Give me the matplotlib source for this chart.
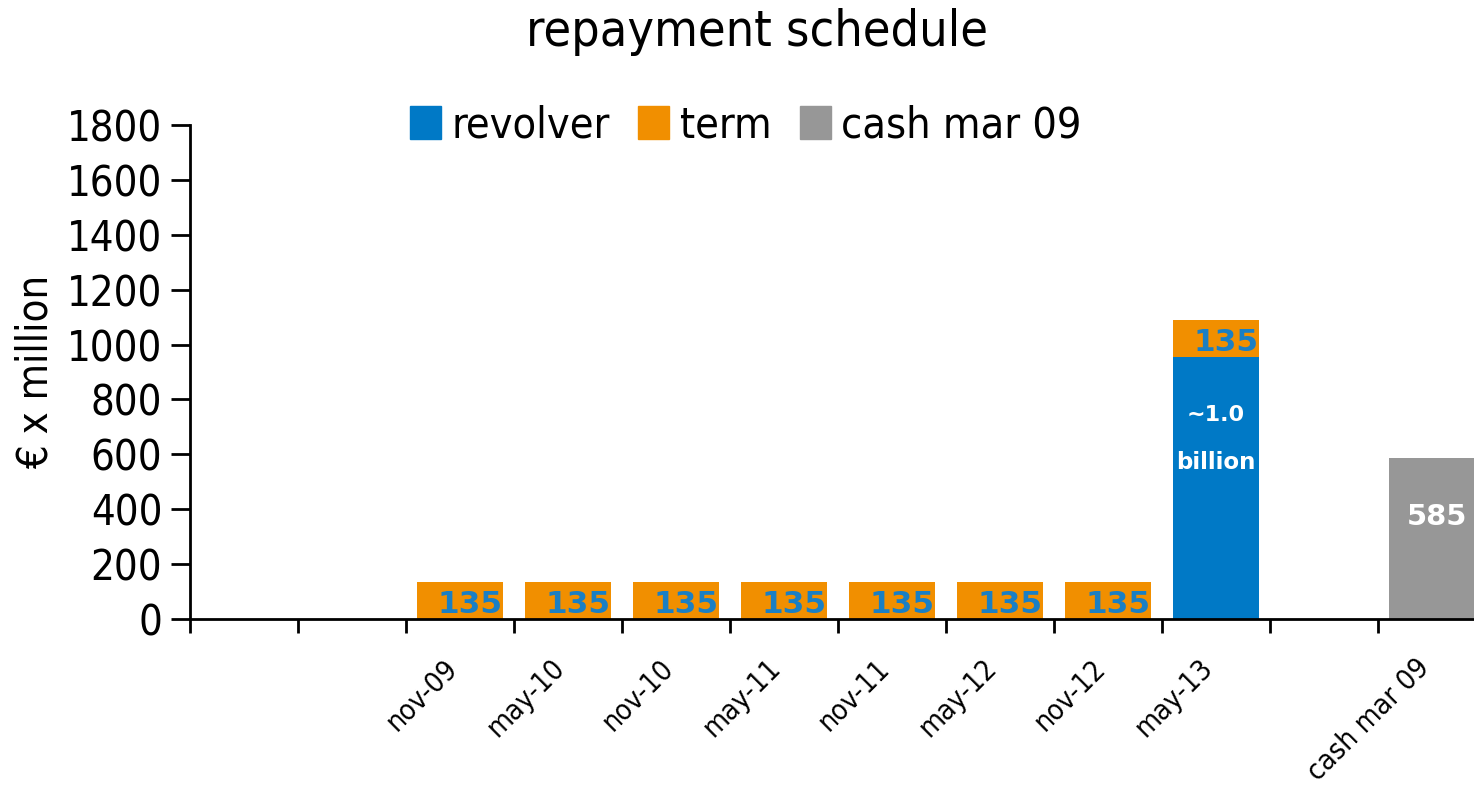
import numpy as np
import matplotlib
matplotlib.use('Agg')
from matplotlib import pyplot as plt
from matplotlib import transforms
from matplotlib.patches import Patch

plt.rcParams['font.family'] = ['DejaVu Sans']
plt.rcParams['font.stretch'] = 'condensed'

categories = ['', '', 'nov-09', 'may-10', 'nov-10', 'may-11', 'nov-11',
              'may-12', 'nov-12', 'may-13', '', 'cash mar 09']
revolver = [0, 0, 0, 0, 0, 0, 0, 0, 0, 955, 0, 0]
term = [0, 0, 135, 135, 135, 135, 135, 135, 135, 135, 0, 0]
cash = [0, 0, 0, 0, 0, 0, 0, 0, 0, 0, 0, 585]
yticks = [0, 200, 400, 600, 800, 1000, 1200, 1400, 1600, 1800]

BLUE = '#0079c6'
ORANGE = '#f18f00'
GREY = '#979797'

fig = plt.figure(figsize=(14.74, 7.85), dpi=100)
ax = fig.add_axes([190 / 1474, 1 - 619 / 785, 1296 / 1474, 494 / 785])

x = np.arange(len(categories))
rev = np.array(revolver)
ax.bar(x, rev, width=0.8, color=BLUE)
ax.bar(x, term, width=0.8, bottom=rev, color=ORANGE)
ax.bar(x, cash, width=0.8, color=GREY)

# value labels
lab = dict(ha='center', va='center', fontweight='bold', stretch='normal')
for i, t in enumerate(term):
    if t:
        ax.text(i + 0.09, rev[i] + t / 2 - 14, str(t), color='#1a7fc4',
                fontsize=22.5, **lab)
ax.text(9, 745, '~1.0', color='white', fontsize=16, **lab)
ax.text(9, 572, 'billion', color='white', fontsize=16.5, **lab)
ax.text(11.05, 370, str(cash[11]), color='white', fontsize=21, **lab)

ax.set_xlim(-0.5, len(categories) - 0.5)
ax.set_ylim(0, 1800)
ax.set_yticks(yticks)
ax.tick_params(axis='y', labelsize=30, length=14, width=2, direction='out', pad=6)

# boundary ticks, labels at the centres
ax.set_xticks(np.arange(len(categories)) - 0.5)
ax.set_xticklabels([])
ax.tick_params(axis='x', which='major', length=10, width=2, direction='out')
ax.set_xticks(x, minor=True)
ax.set_xticklabels(categories, minor=True, rotation=45, ha='right',
                   rotation_mode='anchor', fontsize=20.5)
ax.tick_params(axis='x', which='minor', length=0, pad=25)
shift = transforms.ScaledTranslation(-0.17, 0, fig.dpi_scale_trans)
for t in ax.get_xticklabels(minor=True):
    t.set_transform(t.get_transform() + shift)

for s in ['top', 'right']:
    ax.spines[s].set_visible(False)
ax.spines['left'].set_linewidth(2)
ax.spines['bottom'].set_linewidth(2)

ax.set_ylabel('€ x million', fontsize=30)
ax.yaxis.set_label_coords(-(190 - 57) / 1296, 0.5)
fig.suptitle('repayment schedule', fontsize=36, x=757 / 1474, y=0.99, va='top')

handles = [Patch(color=BLUE), Patch(color=ORANGE), Patch(color=GREY)]
fig.legend(handles, ['revolver', 'term', 'cash mar 09'], loc='center',
           bbox_to_anchor=(746 / 1474, 1 - 125 / 785), ncol=3, frameon=False,
           fontsize=31, handlelength=0.72, handleheight=0.8, handletextpad=0.25,
           columnspacing=0.65)

fig.savefig('out.png', dpi=100)
